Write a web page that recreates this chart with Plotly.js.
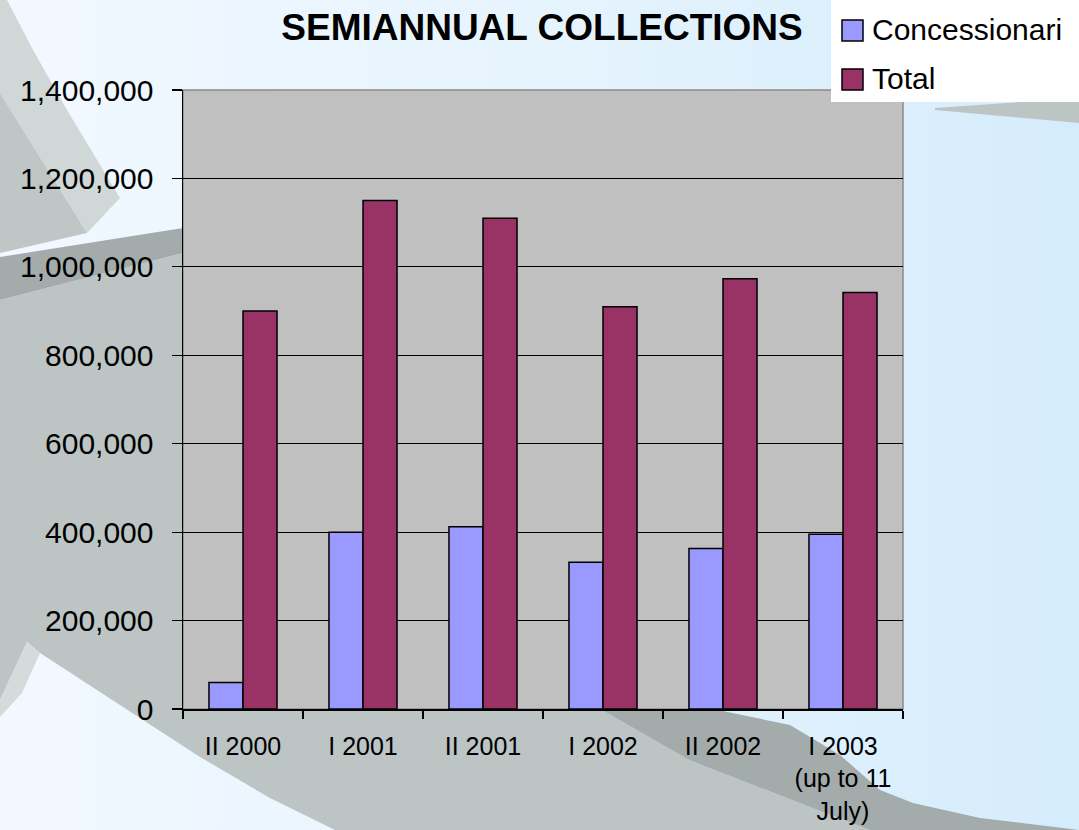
<!DOCTYPE html>
<html>
<head>
<meta charset="utf-8">
<script src="https://cdn.plot.ly/plotly-3.0.1.min.js"></script>
<style>
  html, body { margin:0; padding:0; width:1079px; height:830px; overflow:hidden;
    background: linear-gradient(to right, #f2f8ff 0%, #e6f4fd 50%, #d5ecfc 100%); }
  #chart { width:1079px; height:830px; }
</style>
</head>
<body>
<div id="chart"></div>
<script>
// ---- data ----
const categories = ["II 2000", "I 2001", "II 2001", "I 2002", "II 2002", "I 2003<br>(up to 11<br>July)"];
const concessionari = [60000, 400000, 412000, 332000, 363000, 395000];
const total = [900000, 1150000, 1110000, 910000, 973000, 942000];
const seriesNames = ["Concessionari", "Total"];
const seriesColors = ["#9999ff", "#993366"];
const yTickValues = [0, 200000, 400000, 600000, 800000, 1000000, 1200000, 1400000];
const chartTitle = "SEMIANNUAL COLLECTIONS";

// ---- layout geometry (pixels) ----
const W = 1079, H = 830;
const L = 183, R = 903, T = 90, B = 709;
const px = x => (x - L) / (R - L);
const py = y => (B - y) / (B - T);
function poly(pts) {
  return 'M ' + pts.map(p => px(p[0]).toFixed(5) + ' ' + py(p[1]).toFixed(5)).join(' L ') + ' Z';
}
function bgShape(pts, color) {
  return { type: 'path', xref: 'paper', yref: 'paper', layer: 'below',
    path: poly(pts), fillcolor: color, line: { width: 0 } };
}

const shapes = [
  // main grey swoosh
  bgShape([[0,300],[183,253],[600,253],[602,710],[689,760],[810,807],[870,830],[335,830],[270,798],[200,757],[40,653],[27,642],[0,700]], '#bcc4c4'),
  // darker strip lower right
  bgShape([[602,710],[718,710],[790,725],[840,755],[880,790],[913,803],[980,818],[1079,830],[870,830],[810,807],[689,760]], '#a4abab'),
  // light strip lower left
  bgShape([[27,642],[40,653],[22,693],[0,717],[0,700]], '#d3dbdb'),
  // dark band left
  bgShape([[0,257],[183,228],[183,253],[0,300]], '#a4abab'),
  // top left light band
  bgShape([[0,0],[7,0],[33,50],[67,110],[120,198],[87,233],[0,93]], '#cfd8d6'),
  // top left inner grey
  bgShape([[0,93],[87,233],[0,253]], '#bec6c6'),
  // top right strip
  bgShape([[935,108],[1079,98],[1079,123],[935,110]], '#bcc4c4'),
  // plot area
  { type: 'rect', xref: 'paper', yref: 'paper', layer: 'below', x0: 0, x1: 1, y0: 0, y1: 1,
    fillcolor: '#c0c0c0', line: { color: '#8a8a8a', width: 1.5 } },
  // legend box
  { type: 'rect', xref: 'paper', yref: 'paper', layer: 'below', x0: px(831), x1: px(1079), y0: py(102), y1: py(0),
    fillcolor: '#ffffff', line: { width: 0 } },
  // legend keys
  { type: 'rect', xref: 'paper', yref: 'paper', layer: 'above', x0: px(842), x1: px(863), y0: py(41), y1: py(20),
    fillcolor: seriesColors[0], line: { color: '#000', width: 1.5 } },
  { type: 'rect', xref: 'paper', yref: 'paper', layer: 'above', x0: px(842), x1: px(863), y0: py(90), y1: py(69),
    fillcolor: seriesColors[1], line: { color: '#000', width: 1.5 } }
];

const annotations = [
  { xref: 'paper', yref: 'paper', x: px(870), y: py(30), xanchor: 'left', yanchor: 'middle',
    text: seriesNames[0], showarrow: false, font: { size: 30, color: '#000' } },
  { xref: 'paper', yref: 'paper', x: px(870), y: py(79), xanchor: 'left', yanchor: 'middle',
    text: seriesNames[1], showarrow: false, font: { size: 30, color: '#000' } }
];

const traces = [
  { type: 'bar', name: seriesNames[0], x: categories, y: concessionari,
    marker: { color: seriesColors[0], line: { color: '#000', width: 1.5 } }, hoverinfo: 'x+y' },
  { type: 'bar', name: seriesNames[1], x: categories, y: total,
    marker: { color: seriesColors[1], line: { color: '#000', width: 1.5 } }, hoverinfo: 'x+y' }
];

const layout = {
  width: W, height: H,
  margin: { l: L, r: W - R, t: T, b: H - B, pad: 0 },
  paper_bgcolor: 'rgba(0,0,0,0)',
  plot_bgcolor: 'rgba(0,0,0,0)',
  font: { family: '"Liberation Sans", Arial, sans-serif', color: '#000' },
  title: { text: '<b>' + chartTitle + '</b>', x: 542 / W, xanchor: 'center', y: 1 - 27 / H, yanchor: 'middle',
    font: { size: 37, color: '#000' } },
  showlegend: false,
  barmode: 'group', bargap: 0.433, bargroupgap: 0,
  xaxis: {
    type: 'category', showgrid: false, showline: true, linecolor: '#000', linewidth: 1.5,
    ticks: 'outside', tickson: 'boundaries', ticklen: 8, tickcolor: '#000', tickwidth: 1.2,
    tickfont: { size: 25 }, ticklabelstandoff: 14, fixedrange: true, zeroline: false
  },
  yaxis: {
    range: [0, 1400000], tickvals: yTickValues, tickformat: ',d',
    showgrid: true, gridcolor: '#000', gridwidth: 1,
    showline: true, linecolor: '#000', linewidth: 1.5,
    ticks: 'outside', ticklen: 10, tickcolor: '#000', tickwidth: 1.2,
    tickfont: { size: 30 }, ticklabelstandoff: 12, zeroline: false, fixedrange: true
  },
  shapes: shapes,
  annotations: annotations
};

Plotly.newPlot('chart', traces, layout, { displayModeBar: false, staticPlot: true });
</script>
</body>
</html>
